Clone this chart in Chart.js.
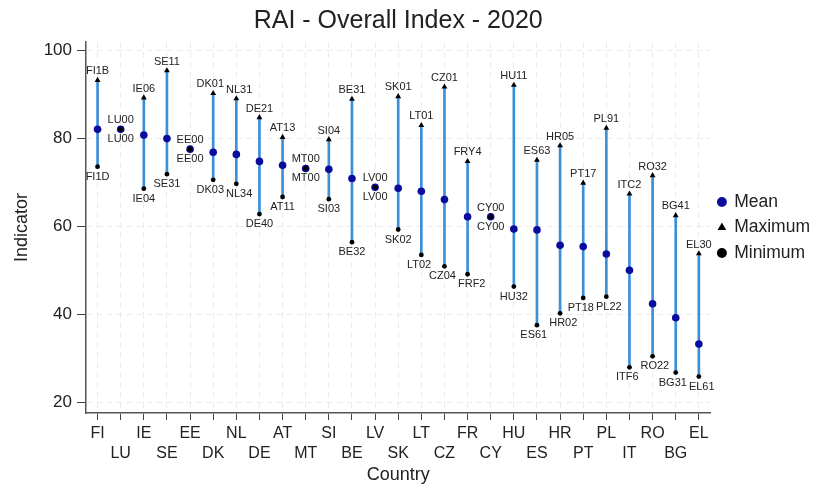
<!DOCTYPE html>
<html>
<head>
<meta charset="utf-8">
<script src="https://cdn.jsdelivr.net/npm/chart.js@4"></script>
<style>
  body { margin: 0; background: #fff; }
</style>
</head>
<body>
<canvas id="raiChart" width="820" height="487"></canvas>
<script>
// data
const countries = ["FI", "LU", "IE", "SE", "EE", "DK", "NL", "DE", "AT", "MT", "SI", "BE", "LV", "SK",
    "LT", "CZ", "FR", "CY", "HU", "ES", "HR", "PT", "PL", "IT", "RO", "BG", "EL"];
const meanValues = [82.1, 82.1, 80.8, 80.0, 77.6, 76.9, 76.4, 74.8, 73.9, 73.2, 73.0, 70.9, 68.9, 68.7,
    68.0, 66.1, 62.2, 62.2, 59.4, 59.2, 55.7, 55.4, 53.7, 50.0, 42.4, 39.2, 33.2];
const maxValues = [93.3, 82.1, 89.3, 95.5, 77.6, 90.3, 89.1, 84.8, 80.3, 73.2, 79.8, 89.0, 68.9, 89.6,
    83.0, 91.8, 74.8, 62.2, 92.2, 75.1, 78.4, 69.9, 82.4, 67.4, 71.6, 62.5, 53.8];
const minValues = [73.6, 82.1, 68.6, 71.9, 77.6, 70.6, 69.7, 62.8, 66.7, 73.2, 66.2, 56.4, 68.9, 59.3,
    53.5, 50.9, 49.1, 62.2, 46.3, 37.5, 40.2, 43.7, 44.0, 27.9, 30.4, 26.7, 25.8];
const maxRegions = ["FI1B", "LU00", "IE06", "SE11", "EE00", "DK01", "NL31", "DE21", "AT13", "MT00", "SI04", "BE31", "LV00", "SK01",
    "LT01", "CZ01", "FRY4", "CY00", "HU11", "ES63", "HR05", "PT17", "PL91", "ITC2", "RO32", "BG41", "EL30"];
const minRegions = ["FI1D", "LU00", "IE04", "SE31", "EE00", "DK03", "NL34", "DE40", "AT11", "MT00", "SI03", "BE32", "LV00", "SK02",
    "LT02", "CZ04", "FRF2", "CY00", "HU32", "ES61", "HR02", "PT18", "PL22", "ITF6", "RO22", "BG31", "EL61"];
const yTicks = [20, 40, 60, 80, 100];

const fontFamily = "'Liberation Sans', Arial, sans-serif";

// writes region codes above the maximum and below the minimum
const regionLabels = {
    id: 'regionLabels',
    afterDatasetsDraw(chart) {
        const ctx = chart.ctx;
        const x = chart.scales.x;
        const y = chart.scales.y;
        ctx.save();
        ctx.font = "11px " + fontFamily;
        ctx.fillStyle = "#222";
        ctx.textAlign = "center";
        ctx.textBaseline = "middle";

        const place = (names, values, dy) => {
            const boxes = names.map((n, i) => {
                const w = ctx.measureText(n).width;
                return { text: n, cx: x.getPixelForValue(i), cy: y.getPixelForValue(values[i]) + dy, w: w };
            });
            // push apart neighbours that would overlap
            for (let i = 1; i < boxes.length; i++) {
                const a = boxes[i - 1], b = boxes[i];
                if (Math.abs(a.cy - b.cy) < 12) {
                    const overlap = (a.w + b.w) / 2 + 2 - (b.cx - a.cx);
                    if (overlap > 0) {
                        a.cx -= overlap / 2;
                        b.cx += overlap / 2;
                    }
                }
            }
            boxes.forEach(b => ctx.fillText(b.text, b.cx, b.cy));
        };

        place(maxRegions, maxValues, -9);
        place(minRegions, minValues, 10);
        ctx.restore();
    }
};

const legendOrder = ["Mean", "Maximum", "Minimum"];

new Chart(document.getElementById("raiChart").getContext("2d"), {
    data: {
        labels: countries,
        datasets: [
            {
                type: 'line',
                label: 'Minimum',
                data: minValues,
                showLine: false,
                pointStyle: 'circle',
                pointRadius: 2.4,
                backgroundColor: '#000',
                borderColor: '#000',
                pointBorderWidth: 0
            },
            {
                type: 'line',
                label: 'Maximum',
                data: maxValues,
                showLine: false,
                pointStyle: 'triangle',
                pointRadius: 3.4,
                backgroundColor: '#000',
                borderColor: '#000',
                pointBorderWidth: 0
            },
            {
                type: 'line',
                label: 'Mean',
                data: meanValues,
                showLine: false,
                pointStyle: 'circle',
                pointRadius: 3.8,
                backgroundColor: '#0b0b9e',
                borderColor: '#0b0b9e',
                pointBorderWidth: 0
            },
            {
                type: 'bar',
                label: 'range',
                data: minValues.map((m, i) => [m, maxValues[i]]),
                backgroundColor: '#3b8fd9',
                borderWidth: 0,
                barThickness: 2
            }
        ]
    },
    options: {
        responsive: false,
        animation: false,
        layout: { padding: { left: 0, right: 0, top: 0, bottom: 0 } },
        plugins: {
            tooltip: { enabled: false },
            title: {
                display: true,
                fullSize: false,
                text: 'RAI - Overall Index - 2020',
                color: '#222',
                font: { family: fontFamily, size: 25, weight: 'normal' },
                padding: { top: 6, bottom: 6 }
            },
            legend: {
                position: 'right',
                fullSize: false,
                labels: {
                    usePointStyle: true,
                    boxWidth: 7,
                    boxHeight: 7,
                    padding: 8,
                    color: '#222',
                    font: { family: fontFamily, size: 17.5 },
                    filter: item => item.text !== 'range',
                    sort: (a, b) => legendOrder.indexOf(a.text) - legendOrder.indexOf(b.text)
                }
            }
        },
        scales: {
            x: {
                type: 'category',
                offset: true,
                grid: {
                    offset: false,
                    color: '#ebebeb',
                    lineWidth: 1,
                    drawTicks: true,
                    tickLength: 7,
                    tickColor: '#444',
                    tickWidth: 1
                },
                border: { display: true, color: '#555', width: 1.5, dash: [6, 4] },
                ticks: {
                    autoSkip: false,
                    maxRotation: 0,
                    minRotation: 0,
                    padding: 4,
                    color: '#222',
                    font: { family: fontFamily, size: 16, lineHeight: 1.25 },
                    callback: (v, i) => i % 2 ? ['', countries[i]] : [countries[i]]
                },
                title: {
                    display: true,
                    text: 'Country',
                    color: '#222',
                    font: { family: fontFamily, size: 18 },
                    padding: { top: 2, bottom: 1 }
                },
                afterFit: s => { s.height = 74; }
            },
            y: {
                min: 17.5,
                max: 102,
                afterBuildTicks: s => { s.ticks = yTicks.map(v => ({ value: v })); },
                grid: {
                    color: '#ebebeb',
                    lineWidth: 1,
                    drawTicks: true,
                    tickLength: 9,
                    tickColor: '#444',
                    tickWidth: 1
                },
                border: { display: true, color: '#555', width: 1.5, dash: [6, 4] },
                ticks: {
                    padding: 5,
                    color: '#222',
                    font: { family: fontFamily, size: 17 }
                },
                title: {
                    display: true,
                    text: 'Indicator',
                    color: '#222',
                    font: { family: fontFamily, size: 18 },
                    padding: { top: 11, bottom: 10 }
                },
                afterFit: s => { s.width = 86; }
            }
        }
    },
    plugins: [regionLabels]
});
</script>
</body>
</html>
